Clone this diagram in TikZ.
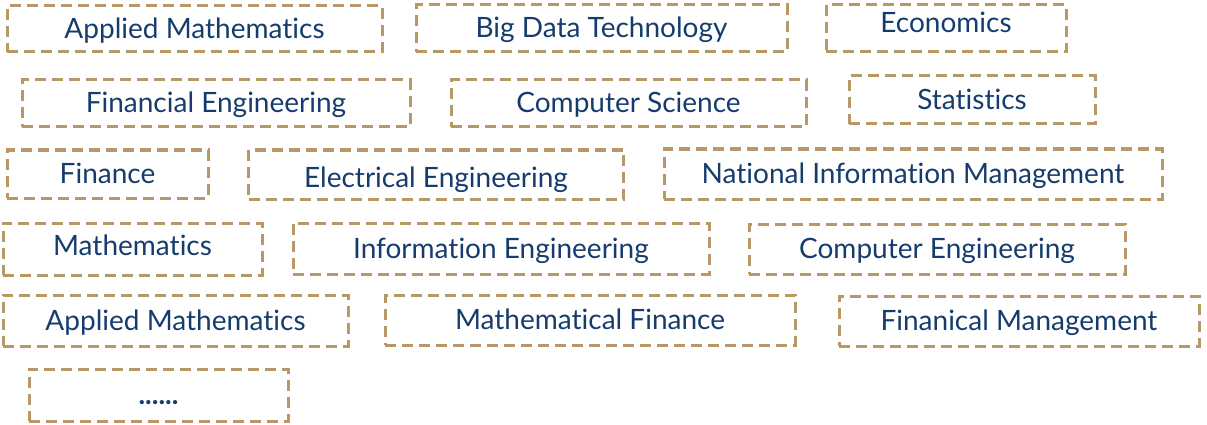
\documentclass[tikz,border=0pt]{standalone}
\usepackage{fontspec}
\setmainfont{Lato}[Ligatures={NoCommon}]
\usetikzlibrary{positioning}
\definecolor{boxtan}{RGB}{184,153,102}
\definecolor{textnavy}{RGB}{22,60,110}

\begin{document}
\begin{tikzpicture}[x=1pt,y=-1pt,
font=\fontsize{28}{32}\selectfont,
major/.style={draw=boxtan,line width=3pt,dash pattern=on 11pt off 6pt,text=textnavy,
  inner sep=0pt,text height=19pt,text depth=0pt},
lift/.style={text depth=#1},
sink/.style={text height=19pt+#1}]

\useasboundingbox (0,0) rectangle (1207,425);

% first row
\node[major,minimum width=375pt,minimum height=46pt] (am1) at(194.5,29){Applied Mathematics};
\node[major,minimum width=371pt,minimum height=47pt] (bdt) at(601.5,28.5){Big Data Technology};
\node[major,lift=10pt,minimum width=240pt,minimum height=47pt] (eco) at(946,28.5){Economics};
% second row
\node[major,minimum width=388pt,minimum height=47pt] (fe) at(216,103.5){Financial Engineering};
\node[major,minimum width=355pt,minimum height=47pt] (cs) at(628.5,103.5){Computer Science};
\node[major,minimum width=246pt,minimum height=48pt] (stat) at(972,100){Statistics};
% third row
\node[major,minimum width=201pt,minimum height=48pt] (fin) at(107.5,174){Finance};
\node[major,sink=6pt,minimum width=375pt,minimum height=49pt] (ee) at(436,174.5){Electrical Engineering};
\node[major,minimum width=498pt,minimum height=50pt] (nim) at(913,174){National Information Management};
% fourth row
\node[major,lift=7pt,minimum width=259pt,minimum height=52pt] (math) at(132.5,249){Mathematics};
\node[major,minimum width=416pt,minimum height=51pt] (ie) at(501,248.5){Information Engineering};
\node[major,minimum width=376pt,minimum height=50pt] (ce) at(937,249){Computer Engineering};
% fifth row
\node[major,minimum width=345pt,minimum height=51pt] (am2) at(175.5,320.5){Applied Mathematics};
\node[major,minimum width=410pt,minimum height=50pt] (mf) at(590,320){Mathematical Finance};
\node[major,minimum width=360pt,minimum height=50pt] (fm) at(1019,321){Finanical Management};
% last
\node[major,minimum width=259pt,minimum height=52pt] (more) at(158.5,395){\textbf{......}};
\end{tikzpicture}
\end{document}
